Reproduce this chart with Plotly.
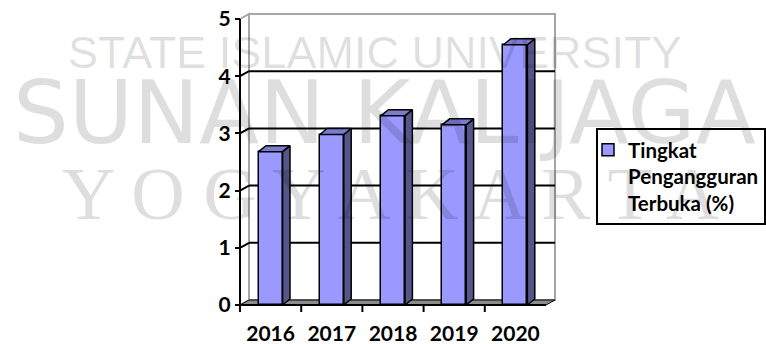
import plotly.graph_objects as go

# ---- data ----
years = ["2016", "2017", "2018", "2019", "2020"]
rates = [2.68, 2.98, 3.31, 3.15, 4.55]
series_name = "Tingkat<br>Pengangguran<br>Terbuka (%)"
y_ticks = [0, 1, 2, 3, 4, 5]
watermark = ["STATE ISLAMIC UNIVERSITY", "SUNAN KALIJAGA", "Y O G Y A K A R T A"]

# ---- geometry (pixel frame) ----
W, H = 766, 344
L, R, T, B = 236, 558, 10, 312          # plot area in px
X0PX, Y0PX = 240, 305                   # front origin
UX, UY = 61.2, 57.2                     # px per data unit
xmin = -0.5 - (X0PX - L) / UX
xmax = -0.5 + (R - X0PX) / UX
ymin = -(B - Y0PX) / UY
ymax = (Y0PX - T) / UY

WDX, WDY = 9 / UX, 5 / UY               # wall depth offset
BDX, BDY = 7.4 / UX, 6 / UY             # bar depth offset
HW = 12 / UX                            # half bar width
TICK = (B - Y0PX) / UY

FRONT = "#9999ff"
SIDE = "#55558a"
TOP = "#7b7bd0"
EDGE = "black"
WALLC = "#a6a6a6"
FLOORC = "#8c8c8c"

n = len(years)
xs = list(range(n))
xl, xr = -0.5, n - 0.5

fig = go.Figure()

shapes = []
def poly(pts, fill, line, lw):
    path = "M " + " L ".join(f"{x},{y}" for x, y in pts) + " Z"
    shapes.append(dict(type="path", path=path, xref="x", yref="y",
                       fillcolor=fill, line=dict(color=line, width=lw), layer="below"))
def seg(x1, y1, x2, y2, color, lw):
    shapes.append(dict(type="line", x0=x1, y0=y1, x1=x2, y1=y2, xref="x", yref="y",
                       line=dict(color=color, width=lw), layer="below"))

top = y_ticks[-1]
# back wall
poly([(xl + WDX, WDY), (xr + WDX, WDY), (xr + WDX, top + WDY), (xl + WDX, top + WDY)], "white", WALLC, 2)
# left wall
poly([(xl, 0), (xl + WDX, WDY), (xl + WDX, top + WDY), (xl, top)], "white", WALLC, 2)
# gridlines
for v in y_ticks[1:-1]:
    seg(xl + WDX, v + WDY, xr + WDX, v + WDY, "black", 2)
    seg(xl, v, xl + WDX, v + WDY, "black", 2)
# floor
poly([(xl, 0), (xr, 0), (xr + WDX, WDY), (xl + WDX, WDY)], FLOORC, "black", 1)
# axes
seg(xl, 0, xr, 0, "black", 2)
seg(xl, ymin, xl, top, "black", 2)
for i in range(n - 1):
    seg(i + 0.5, 0, i + 0.5, -TICK, "black", 2)

# bars: front faces
fig.add_trace(go.Bar(x=xs, y=rates, width=2 * HW, name=series_name,
                     marker=dict(color=FRONT, line=dict(color=EDGE, width=1.5)),
                     showlegend=True, hoverinfo="skip"))
# side and top faces
for i, v in zip(xs, rates):
    sx = [i + HW, i + HW + BDX, i + HW + BDX, i + HW, i + HW]
    sy = [0, BDY, v + BDY, v, 0]
    fig.add_trace(go.Scatter(x=sx, y=sy, fill="toself", fillcolor=SIDE, mode="lines",
                             line=dict(color=EDGE, width=1.5), showlegend=False, hoverinfo="skip"))
    tx = [i - HW, i + HW, i + HW + BDX, i - HW + BDX, i - HW]
    ty = [v, v, v + BDY, v + BDY, v]
    fig.add_trace(go.Scatter(x=tx, y=ty, fill="toself", fillcolor=TOP, mode="lines",
                             line=dict(color=EDGE, width=1.5), showlegend=False, hoverinfo="skip"))

def px2paper(px, py):
    return (px - L) / (R - L), (B - py) / (B - T)

annotations = []
wm_specs = [  # (center px x, center px y, font, size)
    (374, 53, "Liberation Sans", 45),
    (384, 113, "DejaVu Sans", 88),
    (390, 194, "Liberation Serif", 74),
]
for text, (cx, cy, fam, sz) in zip(watermark, wm_specs):
    ax, ay = px2paper(cx, cy)
    annotations.append(dict(text=text, x=ax, y=ay, xref="paper", yref="paper",
                            xanchor="center", yanchor="middle", showarrow=False,
                            font=dict(family=fam, size=sz, color="rgba(0,0,0,0.13)")))

lx, ly = px2paper(596, 128)
font_main = "Lato, 'Open Sans', sans-serif"
fig.update_layout(
    width=W, height=H, autosize=False,
    margin=dict(l=L, r=W - R, t=T, b=H - B, pad=0, autoexpand=False),
    paper_bgcolor="white", plot_bgcolor="rgba(0,0,0,0)",
    shapes=shapes, annotations=annotations,
    bargap=0,
    xaxis=dict(range=[xmin, xmax], tickvals=xs, ticktext=years, showgrid=False,
               zeroline=False, showline=False, ticks="outside", ticklen=3,
               tickcolor="rgba(0,0,0,0)", automargin=False,
               tickfont=dict(family=font_main, size=21, color="black", weight=700)),
    yaxis=dict(range=[ymin, ymax], tickvals=y_ticks, showgrid=False, zeroline=False,
               showline=False, ticks="outside", ticklen=5, tickwidth=2, tickcolor="black",
               anchor="free", position=(X0PX - L) / (R - L), automargin=False,
               tickfont=dict(family=font_main, size=21, color="black", weight=700)),
    legend=dict(x=lx, y=ly, xanchor="left", yanchor="top", bgcolor="white",
                bordercolor="black", borderwidth=2, valign="top", indentation=-10,
                font=dict(family=font_main, size=20.5, color="black", weight=700)),
)

fig.write_html("out.html")
